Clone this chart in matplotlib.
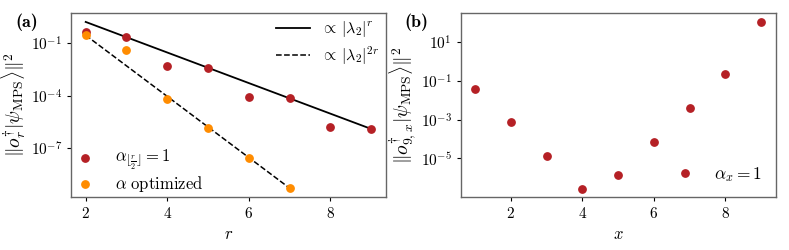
import numpy as np
import matplotlib
matplotlib.use("Agg")
import matplotlib.pyplot as plt
from matplotlib.ticker import FixedLocator, NullLocator, LogFormatterMathtext

plt.rcParams['mathtext.fontset'] = 'cm'
plt.rcParams['font.family'] = 'serif'
plt.rcParams['font.serif'] = ['cmr10', 'DejaVu Serif']
plt.rcParams['axes.formatter.use_mathtext'] = True
plt.rcParams['font.size'] = 11

# panel (a) data
r_vals = [2, 3, 4, 5, 6, 7, 8, 9]
norm_alpha1 = [10**-0.37, 10**-0.66, 10**-2.31, 10**-2.41, 10**-4.07, 10**-4.14, 10**-5.78, 10**-5.88]
r_opt = [2, 3, 4, 5, 6, 7]
norm_opt = [10**-0.54, 10**-1.37, 10**-4.17, 10**-5.84, 10**-7.55, 10**-9.29]

# fitted decay |lambda_2| and prefactors
lam2 = 10**-0.873
pref_r = 10**1.966
pref_2r = 10**2.95

# panel (b) data
x_vals = [1, 2, 3, 4, 5, 6, 6.88, 7, 8, 9]
norm_b = [10**-1.42, 10**-3.14, 10**-4.88, 10**-6.57, 10**-5.86, 10**-4.14, 10**-5.76, 10**-2.40, 10**-0.66, 10**2.03]

red = '#b52025'
orange = '#ff8c00'
spine_col = '0.4'

fig = plt.figure(figsize=(7.89, 2.5), dpi=100)
ax1 = fig.add_axes([0.090, 0.212, 0.399, 0.736])
ax2 = fig.add_axes([0.584, 0.212, 0.400, 0.736])

# (a)
r_line = np.array([2, 9])
r_line2 = np.array([2, 7])
l1, = ax1.plot(r_line, pref_r * lam2**r_line, color='k', lw=1.3, label=r'$\propto\,|\lambda_2|^r$')
l2, = ax1.plot(r_line2, pref_2r * lam2**(2 * r_line2), color='k', lw=1.1, ls='--', label=r'$\propto\,|\lambda_2|^{2r}$')
p1 = ax1.scatter(r_vals, norm_alpha1, s=28, color=red, zorder=3, label=r'$\alpha_{\lfloor \frac{r}{2} \rfloor}=1$')
p2 = ax1.scatter(r_opt, norm_opt, s=28, color=orange, zorder=3, label=r'$\alpha\ \mathrm{optimized}$')
ax1.set_yscale('log')
ax1.set_xlim(1.64, 9.36)
ax1.set_ylim(10**-9.78, 10**0.73)
ax1.yaxis.set_major_locator(FixedLocator([1e-7, 1e-4, 1e-1]))
ax1.yaxis.set_major_formatter(LogFormatterMathtext())
ax1.yaxis.set_minor_locator(NullLocator())
ax1.set_xticks([2, 4, 6, 8])
ax1.set_xlabel(r'$r$', fontsize=12)
ax1.set_ylabel(r'$\|o_r^{\dagger}|\psi_{\mathrm{MPS}}\rangle\|^2$', fontsize=14, labelpad=2)
leg1 = ax1.legend(handles=[l1, l2], loc='upper right', frameon=False, handlelength=2.1,
                  handletextpad=0.7, borderaxespad=0.0, labelspacing=0.3, fontsize=11.5)
ax1.add_artist(leg1)
ax1.legend(handles=[p1, p2], loc='lower left', frameon=False, handlelength=1.27,
           handletextpad=1.17, borderaxespad=0.0, borderpad=0.2, labelspacing=0.1, fontsize=12)
fig.text(0.019, 0.945, '(a)', fontfamily='cmb10', fontsize=13, va='top')

# (b)
ax2.scatter(x_vals, norm_b, s=28, color=red, zorder=3)
ax2.set_yscale('log')
ax2.set_xlim(0.6, 9.43)
ax2.set_ylim(1e-7, 10**2.52)
ax2.yaxis.set_major_locator(FixedLocator([1e-5, 1e-3, 1e-1, 1e1]))
ax2.yaxis.set_major_formatter(LogFormatterMathtext())
ax2.yaxis.set_minor_locator(NullLocator())
ax2.set_xticks([2, 4, 6, 8])
ax2.set_xlabel(r'$x$', fontsize=12)
ax2.set_ylabel(r'$\|o_{9,x}^{\dagger}|\psi_{\mathrm{MPS}}\rangle\|^2$', fontsize=14, labelpad=2)
ax2.text(0.955, 0.12, r'$\alpha_x=1$', transform=ax2.transAxes, ha='right', va='center', fontsize=12.5)
fig.text(0.513, 0.945, '(b)', fontfamily='cmb10', fontsize=13, va='top')

for ax in (ax1, ax2):
    for s in ax.spines.values():
        s.set_color(spine_col)
        s.set_linewidth(1.0)
    ax.tick_params(direction='out', length=3, width=0.8, labelsize=11)

fig.savefig('out.png', dpi=100)
